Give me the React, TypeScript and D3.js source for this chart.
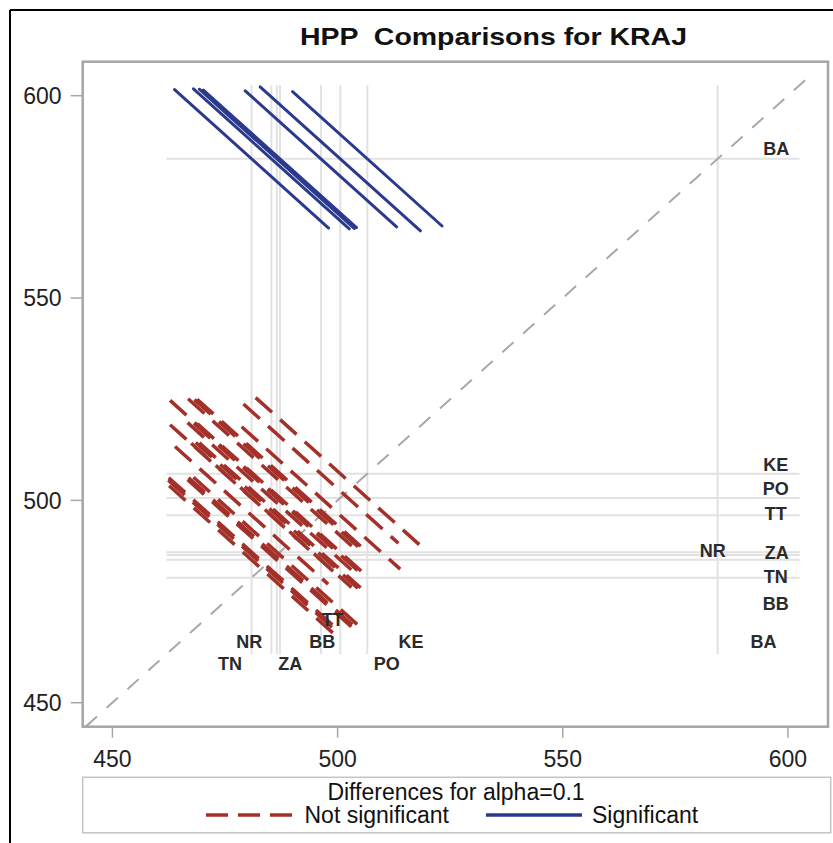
import React from 'react';
import * as d3 from 'd3';

// ---- data ----
const levels = ['BA', 'KE', 'PO', 'TT', 'NR', 'ZA', 'BB', 'TN'];
const levelMeans = [584.4, 506.6, 500.6, 496.3, 487.2, 486.5, 485.3, 480.9];

// pairwise comparisons: x-level (lower mean), y-level (higher mean), half extent of the CI segment
const pairXLevel = ['TN', 'BB', 'ZA', 'NR', 'TT', 'PO', 'KE',
  'TN', 'TN', 'TN', 'TN', 'TN', 'TN',
  'BB', 'BB', 'ZA',
  'BB', 'ZA', 'NR', 'BB', 'ZA', 'NR', 'BB', 'ZA', 'NR',
  'TT', 'TT', 'PO'];
const pairYLevel = ['BA', 'BA', 'BA', 'BA', 'BA', 'BA', 'BA',
  'BB', 'ZA', 'NR', 'TT', 'PO', 'KE',
  'ZA', 'NR', 'NR',
  'TT', 'TT', 'TT', 'PO', 'PO', 'PO', 'KE', 'KE', 'KE',
  'PO', 'KE', 'KE'];
const pairHalf = [17.1, 17.3, 17.2, 17.0, 16.8, 17.8, 16.6,
  18.3, 18.5, 18.4, 17.0, 18.1, 18.1,
  18.6, 18.4, 18.5,
  17.8, 18.0, 17.9, 18.6, 18.4, 18.3, 18.5, 18.3, 18.4,
  17.6, 17.2, 18.8];

const tickValues = [450, 500, 550, 600];

// level labels along the bottom (x) and right side (y), in data units
const xLabelNames = ['NR', 'BB', 'KE', 'BA', 'TN', 'ZA', 'PO', 'TT'];
const xLabelX = [480.4, 496.6, 516.3, 594.6, 476.1, 489.5, 510.9, 498.9];
const xLabelY = [465.1, 465.1, 465.1, 465.1, 459.8, 459.8, 459.8, 470.6];
const yLabelNames = ['BA', 'KE', 'PO', 'TT', 'NR', 'ZA', 'TN', 'BB'];
const yLabelX = [597.4, 597.3, 597.3, 597.3, 583.3, 597.5, 597.3, 597.3];
const yLabelY = [587.0, 508.8, 503.0, 496.8, 487.7, 487.2, 481.1, 474.6];

const refRange = [462.0, 602.6];
const diagRange = [444.1, 606.0];

const titleText = 'HPP  Comparisons for KRAJ';
const legendTitle = 'Differences for alpha=0.1';
const legendNames = ['Not significant', 'Significant'];

export default function App() {
  const W = 833, H = 843;
  const left = 82.7, right = 828, top = 61.7, bottom = 726.7;
  const x = d3.scaleLinear().domain([443.4, 608.9]).range([left, right]);
  const y = d3.scaleLinear().domain([444.07, 608.4]).range([bottom, top]);
  const meanOf = (l: string) => levelMeans[levels.indexOf(l)];

  const red = '#a3312a';
  const blue = '#2b3a8c';
  const refColor = '#e2e2e2';
  const font = 'Liberation Sans, Arial, sans-serif';

  const segs = pairXLevel.map((lx, i) => {
    const mx = meanOf(lx), my = meanOf(pairYLevel[i]), h = pairHalf[i];
    const sig = Math.abs(my - mx) > 2 * h;
    return { x1: x(mx - h), y1: y(my + h), x2: x(mx + h), y2: y(my - h), sig };
  });

  return (
    <svg width={W} height={H} style={{ position: 'absolute', left: 0, top: 0, background: '#fff' }}
      fontFamily={font}>
      <rect x={0} y={0} width={W} height={H} fill="#fff" />
      {/* outer frame */}
      <line x1={10} y1={10} x2={W} y2={10} stroke="#000" strokeWidth={2} />
      <line x1={10} y1={10} x2={10} y2={H} stroke="#000" strokeWidth={2} />

      <text x={300} y={45} fontSize={24} fontWeight="bold" fill="#111"
        textLength={387} lengthAdjust="spacingAndGlyphs" style={{ whiteSpace: 'pre' }}>{titleText}</text>

      <defs>
        <clipPath id="plotclip">
          <rect x={left} y={top} width={right - left} height={bottom - top} />
        </clipPath>
      </defs>

      <g clipPath="url(#plotclip)">
        {/* reference lines */}
        {levelMeans.map((m, i) => (
          <line key={'v' + i} x1={x(m)} x2={x(m)} y1={y(refRange[0])} y2={y(refRange[1])}
            stroke={refColor} strokeWidth={2} />
        ))}
        {levelMeans.map((m, i) => (
          <line key={'h' + i} y1={y(m)} y2={y(m)} x1={x(refRange[0])} x2={x(refRange[1])}
            stroke={refColor} strokeWidth={2} />
        ))}
        {/* diagonal */}
        <line x1={x(diagRange[0])} y1={y(diagRange[0])} x2={x(diagRange[1])} y2={y(diagRange[1])}
          stroke="#a8a8a8" strokeWidth={2} strokeDasharray="15 13" />
        {/* segments */}
        {segs.filter(s => !s.sig).map((s, i) => (
          <line key={'r' + i} x1={s.x1} y1={s.y1} x2={s.x2} y2={s.y2} stroke={red}
            strokeWidth={3.5} strokeDasharray="22 11" />
        ))}
        {segs.filter(s => s.sig).map((s, i) => (
          <line key={'b' + i} x1={s.x1} y1={s.y1} x2={s.x2} y2={s.y2} stroke={blue}
            strokeWidth={3} strokeLinecap="round" />
        ))}
        {/* level labels */}
        {xLabelNames.map((n, i) => (
          <text key={'xl' + i} x={x(xLabelX[i])} y={y(xLabelY[i])} dy="0.36em" textAnchor="middle"
            fontSize={18} fontWeight="bold" fill="#2a2a2a">{n}</text>
        ))}
        {yLabelNames.map((n, i) => (
          <text key={'yl' + i} x={x(yLabelX[i])} y={y(yLabelY[i])} dy="0.36em" textAnchor="middle"
            fontSize={18} fontWeight="bold" fill="#2a2a2a">{n}</text>
        ))}
      </g>

      {/* plot frame */}
      <rect x={left} y={top} width={right - left} height={bottom - top} fill="none"
        stroke="#a6a6a6" strokeWidth={2.5} />

      {/* axes */}
      {tickValues.map(t => (
        <g key={'yt' + t}>
          <line x1={left - 12} x2={left} y1={y(t)} y2={y(t)} stroke="#a6a6a6" strokeWidth={1.5} />
          <text x={61.5} y={y(t)} dy="0.36em" textAnchor="end" fontSize={23} fill="#222">{t}</text>
        </g>
      ))}
      {tickValues.map(t => (
        <g key={'xt' + t}>
          <line x1={x(t)} x2={x(t)} y1={bottom} y2={bottom + 11} stroke="#a6a6a6" strokeWidth={1.5} />
          <text x={x(t)} y={766.5} textAnchor="middle" fontSize={23} fill="#222">{t}</text>
        </g>
      ))}

      {/* legend */}
      <rect x={82.7} y={777.3} width={748} height={55.5} fill="none" stroke="#c4c4c4" strokeWidth={1.5} />
      <text x={456} y={800} textAnchor="middle" fontSize={23} fill="#111">{legendTitle}</text>
      <line x1={206} x2={292} y1={815} y2={815} stroke={red} strokeWidth={3.5} strokeDasharray="22 10" />
      <text x={304.5} y={823} fontSize={23} fill="#111">{legendNames[0]}</text>
      <line x1={486} x2={582} y1={815} y2={815} stroke={blue} strokeWidth={3.5} />
      <text x={592} y={823} fontSize={23} fill="#111">{legendNames[1]}</text>
    </svg>
  );
}
